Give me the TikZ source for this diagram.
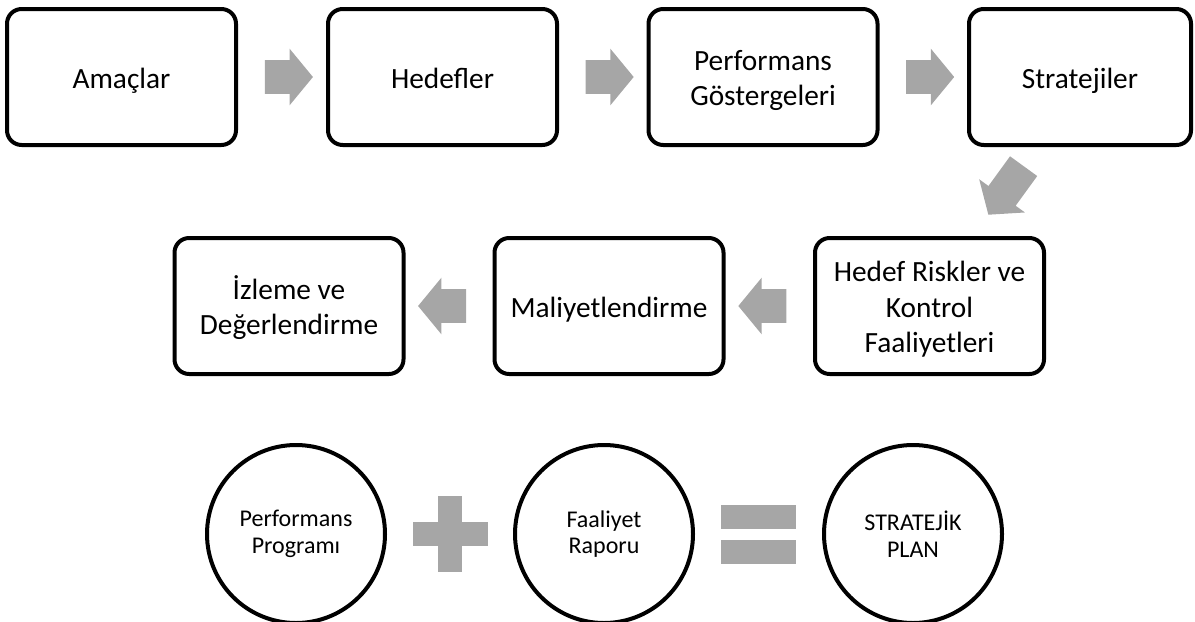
\documentclass[tikz,border=0pt]{standalone}
\usepackage{fontspec}
\setmainfont{Carlito}
\usetikzlibrary{shapes.arrows,calc}
\definecolor{arrowgray}{RGB}{166,166,166}
\tikzset{
  stage/.style={draw, line width=3pt, rounded corners=11pt, minimum width=171.75pt,
    minimum height=102pt, text width=160pt, align=flush center, inner sep=0pt,
    font=\fontsize{22}{26.5}\selectfont,
    execute at begin node=\rule{0pt}{24.5pt}, execute at end node=\strut},
  part/.style={draw, circle, line width=3pt, minimum size=133.5pt, inner sep=0pt,
    align=center, font=\fontsize{18}{20}\selectfont},
  blockarrow/.style={single arrow, fill=arrowgray, inner xsep=0pt, inner ysep=12.4pt,
    minimum height=36pt, single arrow head extend=8.6pt, single arrow tip angle=101},
  opfill/.style={fill=arrowgray}
}
\begin{document}
\begin{tikzpicture}[x=0.75pt,y=-0.75pt]
  \useasboundingbox (0,0) rectangle (1195,621);
  \path
    (121.5,77) node[stage] (amac) {Amaçlar}
    (442.5,77) node[stage] (hedef) {Hedefler}
    (763,77) node[stage] (gosterge) {Performans\\Göstergeleri}
    (1080,77) node[stage, minimum width=166.5pt] (strateji) {Stratejiler};
  \path
    (289,306) node[stage] (izleme) {İzleme ve\\Değerlendirme}
    (609,306) node[stage] (maliyet) {Maliyetlendirme}
    (929.5,306) node[stage] (risk) {Hedef Riskler ve\\Kontrol\\Faaliyetleri};
  \path
    (296,534) node[part] (program) {Performans\\Programı}
    (604,534) node[part] (rapor) {Faaliyet\\Raporu}
    (913,534) node[part] (plan) {STRATEJİK\\PLAN};
  \begin{scope}[every node/.style=blockarrow]
    \path (amac) -- (hedef) node[midway] {};
    \path (hedef) -- (gosterge) node[midway] {};
    \path (gosterge) -- (strateji) node[midway] {};
    \path (strateji) -- (risk) node[midway, xshift=4pt, yshift=5pt, minimum height=45pt, rotate=234] {};
    \path (risk) -- (maliyet) node[midway, shape border rotate=180] {};
    \path (maliyet) -- (izleme) node[midway, shape border rotate=180] {};
  \end{scope}
  % arti ve esittir
  \path (program) -- (rapor) coordinate[midway] (arti);
  \path (rapor) -- (plan) coordinate[midway] (esit);
  \fill[opfill] ($(arti)+(-37.5,-12)$) rectangle ($(arti)+(37.5,12)$);
  \fill[opfill] ($(arti)+(-12,-38)$) rectangle ($(arti)+(12,38)$);
  \fill[opfill] ($(esit)+(-37.5,-29.5)$) rectangle ($(esit)+(37.5,-5.5)$);
  \fill[opfill] ($(esit)+(-37.5,6)$) rectangle ($(esit)+(37.5,29.5)$);
\end{tikzpicture}
\end{document}
